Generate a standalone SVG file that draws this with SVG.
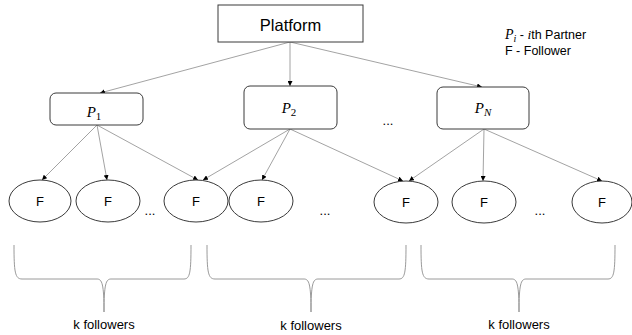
<svg xmlns="http://www.w3.org/2000/svg" width="632" height="335" viewBox="0 0 632 335">
  <style>
    .box { fill: #ffffff; stroke: #3a3a3a; stroke-width: 1; }
    .ell { fill: #ffffff; stroke: #3a3a3a; stroke-width: 1; }
    .edge { fill: none; stroke: #8c8c8c; stroke-width: 0.8; marker-end: url(#tip); }
    .brace { fill: none; stroke: #9a9a9a; stroke-width: 1; }
    .sans { font-family: "Liberation Sans", Arial, sans-serif; fill: #000; }
    .math { font-family: "Liberation Serif", "Times New Roman", serif; font-style: italic; fill: #000; }
    .dots { font-family: "Liberation Sans", Arial, sans-serif; font-size: 13px; fill: #000; }
  </style>
  <defs>
    <marker id="tip" viewBox="0 0 10 10" refX="10" refY="5" markerWidth="5" markerHeight="5" orient="auto" markerUnits="userSpaceOnUse">
      <path d="M0,0 L10,5 L0,10 z" fill="#000"/>
    </marker>
  </defs>

  <rect width="632" height="335" fill="#ffffff"/>

  <!-- connectors -->
  <g id="connectors">
    <line class="edge" x1="290" y1="42" x2="100" y2="93"/>
    <line class="edge" x1="290" y1="42" x2="290" y2="86"/>
    <line class="edge" x1="290" y1="42" x2="482" y2="87"/>

    <line class="edge" x1="97" y1="125" x2="42" y2="180"/>
    <line class="edge" x1="97" y1="125" x2="107" y2="180"/>
    <line class="edge" x1="97" y1="125" x2="198" y2="180"/>

    <line class="edge" x1="290" y1="129" x2="203" y2="180"/>
    <line class="edge" x1="290" y1="129" x2="262" y2="180"/>
    <line class="edge" x1="290" y1="129" x2="403" y2="181"/>

    <line class="edge" x1="484" y1="129" x2="409" y2="181"/>
    <line class="edge" x1="484" y1="129" x2="483" y2="181"/>
    <line class="edge" x1="484" y1="129" x2="602" y2="181"/>
  </g>

  <!-- platform -->
  <g id="platform">
    <rect class="box" x="218" y="5" width="145" height="37"/>
    <text class="sans" x="290.5" y="31" font-size="16.5" text-anchor="middle">Platform</text>
  </g>

  <!-- partners -->
  <g id="partner-1">
    <rect class="box" x="50" y="93" width="93" height="32" rx="6"/>
    <text class="math" x="94" y="117" font-size="15" text-anchor="middle">P<tspan font-style="normal" font-size="11" dy="3">1</tspan></text>
  </g>
  <g id="partner-2">
    <rect class="box" x="244" y="86" width="93" height="43" rx="6"/>
    <text class="math" x="289" y="113" font-size="15" text-anchor="middle">P<tspan font-style="normal" font-size="11" dy="3">2</tspan></text>
  </g>
  <g id="partner-n">
    <rect class="box" x="437" y="87" width="92" height="42" rx="6"/>
    <text class="math" x="483" y="113" font-size="15" text-anchor="middle">P<tspan font-size="11" dy="3">N</tspan></text>
  </g>
  <text class="dots" x="388" y="125" text-anchor="middle">...</text>

  <!-- followers -->
  <g id="follower-1">
    <ellipse class="ell" cx="40" cy="201" rx="31" ry="21"/>
    <text class="sans" x="40" y="206" font-size="13" text-anchor="middle">F</text>
  </g>
  <g id="follower-2">
    <ellipse class="ell" cx="108" cy="201" rx="32" ry="21"/>
    <text class="sans" x="108" y="206" font-size="13" text-anchor="middle">F</text>
  </g>
  <g id="follower-3">
    <ellipse class="ell" cx="196" cy="201" rx="32" ry="21"/>
    <text class="sans" x="196" y="206" font-size="13" text-anchor="middle">F</text>
  </g>
  <g id="follower-4">
    <ellipse class="ell" cx="261" cy="201" rx="32" ry="21"/>
    <text class="sans" x="261" y="206" font-size="13" text-anchor="middle">F</text>
  </g>
  <g id="follower-5">
    <ellipse class="ell" cx="406" cy="202" rx="32" ry="21"/>
    <text class="sans" x="406" y="207" font-size="13" text-anchor="middle">F</text>
  </g>
  <g id="follower-6">
    <ellipse class="ell" cx="484" cy="202" rx="32" ry="21"/>
    <text class="sans" x="484" y="207" font-size="13" text-anchor="middle">F</text>
  </g>
  <g id="follower-7">
    <ellipse class="ell" cx="602" cy="202" rx="30" ry="21"/>
    <text class="sans" x="602" y="207" font-size="13" text-anchor="middle">F</text>
  </g>
  <text class="dots" x="150" y="215" text-anchor="middle">...</text>
  <text class="dots" x="325" y="215" text-anchor="middle">...</text>
  <text class="dots" x="540" y="215" text-anchor="middle">...</text>

  <!-- group braces -->
  <g id="braces">
    <path class="brace" d="M14,245 C14,272 15,279 22,279 L97,279 C102,279 104,284 104,312 C104,284 106,279 111,279 L184,279 C190,279 191,272 191,245"/>
    <path class="brace" d="M207,245 C207,272 208,279 215,279 L304,279 C309,279 311,284 311,312 C311,284 313,279 318,279 L399,279 C405,279 406,272 406,245"/>
    <path class="brace" d="M421,245 C421,272 422,279 429,279 L512,279 C517,279 519,284 519,312 C519,284 521,279 526,279 L608,279 C614,279 615,272 615,245"/>
  </g>
  <text class="sans" x="104" y="329" font-size="13" text-anchor="middle">k followers</text>
  <text class="sans" x="311" y="330" font-size="13" text-anchor="middle">k followers</text>
  <text class="sans" x="519" y="329" font-size="13" text-anchor="middle">k followers</text>

  <!-- legend -->
  <g id="legend">
    <text x="505" y="39" font-size="12.5"><tspan class="math" font-size="14">P</tspan><tspan class="math" font-size="10" dy="3">i</tspan><tspan class="sans" dy="-3"> - </tspan><tspan class="math" font-size="13.5">i</tspan><tspan class="sans">th Partner</tspan></text>
    <text class="sans" x="505" y="55" font-size="12.5">F - Follower</text>
  </g>
</svg>
